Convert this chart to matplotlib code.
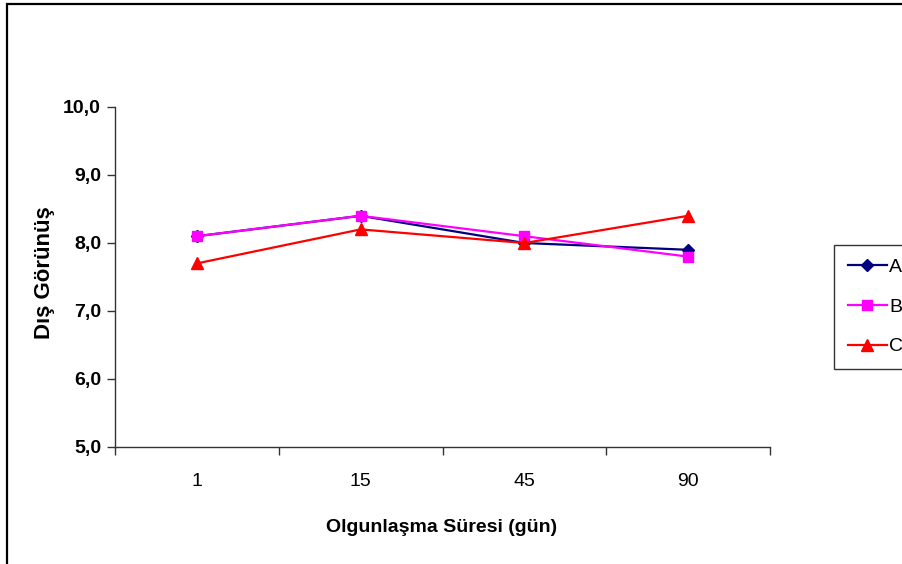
import numpy as np
import matplotlib
matplotlib.use("Agg")
import matplotlib.pyplot as plt
from matplotlib.patches import Rectangle

# values
days = ["1", "15", "45", "90"]
series_names = ["A", "B", "C"]
vals_a = [8.1, 8.4, 8.0, 7.9]
vals_b = [8.1, 8.4, 8.1, 7.8]
vals_c = [7.7, 8.2, 8.0, 8.4]
y_ticks = [5.0, 6.0, 7.0, 8.0, 9.0, 10.0]

plt.rcParams['font.family'] = ['Liberation Sans', 'DejaVu Sans']

W, H = 903, 564
fig = plt.figure(figsize=(W / 100, H / 100), dpi=100)
fig.patch.set_facecolor("white")

# outer chart-area frame (cut off on right and bottom)
fig.patches.append(Rectangle((7 / W, -0.2), 1.2, 1.2 - 4 / H,
                             transform=fig.transFigure, fill=False,
                             edgecolor="black", linewidth=1.6))

ax = fig.add_axes([115 / W, 1 - 447 / H, (770 - 115) / W, (447 - 107) / H])
x = np.arange(len(days))

styles = [
    dict(color="#000080", marker="D", markersize=6),
    dict(color="#FF00FF", marker="s", markersize=7),
    dict(color="#FF0000", marker="^", markersize=8),
]
for name, vals, st in zip(series_names, [vals_a, vals_b, vals_c], styles):
    ax.plot(x, vals, linewidth=1.6, label=name, color=st["color"],
            marker=st["marker"], markersize=st["markersize"],
            markerfacecolor=st["color"], markeredgecolor=st["color"])

ax.set_xlim(-0.5, len(days) - 0.5)
ax.set_ylim(5.0, 10.0)

# category boundaries get the tick marks, labels sit in the middle
ax.set_xticks(np.arange(-0.5, len(days), 1.0))
ax.set_xticklabels([])
ax.set_xticks(x, minor=True)
ax.set_xticklabels(days, minor=True, fontsize=14)
ax.tick_params(axis="x", which="major", direction="out", length=6, width=1, color="#333333")
ax.tick_params(axis="x", which="minor", length=0, pad=19)

ax.set_yticks(y_ticks)
ax.set_yticklabels([f"{v:.1f}".replace(".", ",") for v in y_ticks],
                   fontsize=14, fontweight="bold")
ax.tick_params(axis="y", direction="out", length=6, width=1, color="#333333", pad=4)

for s in ["top", "right"]:
    ax.spines[s].set_visible(False)
for s in ["left", "bottom"]:
    ax.spines[s].set_color("#333333")
    ax.spines[s].set_linewidth(1)

fig.text(45 / W, 1 - 273 / H, "Dış Görünüş", rotation=90, ha="center", va="center",
         fontsize=16, fontweight="bold")
fig.text(442 / W, 1 - 528 / H, "Olgunlaşma Süresi (gün)", ha="center", va="center",
         fontsize=14, fontweight="bold")

leg = fig.legend(loc="upper left", bbox_to_anchor=(834 / W, 1 - 245 / H),
                 fontsize=14, frameon=True, fancybox=False, edgecolor="black",
                 borderpad=0.7, labelspacing=1.13, handlelength=2.0,
                 handletextpad=0.15, borderaxespad=0)
leg.get_frame().set_linewidth(1)

fig.savefig("out.png", dpi=100)
